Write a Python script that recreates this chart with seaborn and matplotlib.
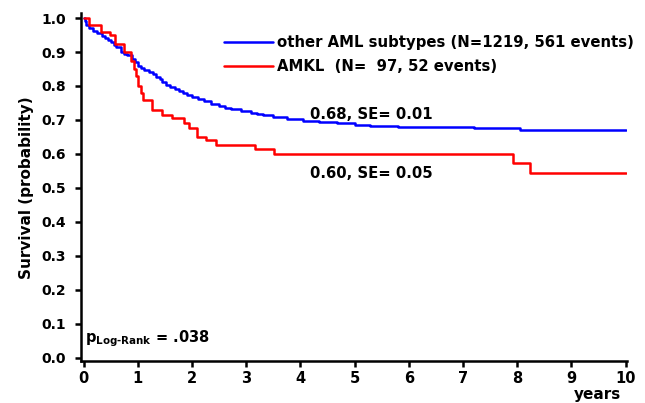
import matplotlib

matplotlib.use("Agg")

import matplotlib.pyplot as plt
import pandas as pd
import seaborn as sns

# Kaplan-Meier curves (years, survival probability)
other_years = [0.0, 0.02, 0.05, 0.10, 0.17, 0.25, 0.33, 0.40, 0.45, 0.50, 0.55, 0.60,
               0.68, 0.75, 0.80, 0.90, 0.95, 1.00, 1.05, 1.12, 1.20, 1.27, 1.33, 1.40,
               1.45, 1.52, 1.60, 1.68, 1.75, 1.83, 1.91, 2.00, 2.10, 2.22, 2.34, 2.50,
               2.60, 2.71, 2.90, 3.08, 3.20, 3.30, 3.50, 3.75, 4.05, 4.35, 4.67, 5.00,
               5.28, 5.80, 6.45, 7.20, 7.92, 8.05, 10.0]
other_surv = [1.0, 0.99, 0.98, 0.97, 0.962, 0.955, 0.948, 0.94, 0.935, 0.93, 0.922, 0.915,
              0.90, 0.895, 0.89, 0.88, 0.87, 0.86, 0.852, 0.846, 0.84, 0.834, 0.827, 0.82,
              0.812, 0.804, 0.796, 0.79, 0.785, 0.78, 0.774, 0.768, 0.762, 0.755, 0.747, 0.74,
              0.735, 0.731, 0.726, 0.721, 0.717, 0.714, 0.708, 0.703, 0.698, 0.694, 0.69, 0.686,
              0.683, 0.68, 0.678, 0.677, 0.675, 0.671, 0.671]

amkl_years = [0.0, 0.10, 0.31, 0.48, 0.57, 0.74, 0.88, 0.93, 0.97, 1.01, 1.05, 1.09,
              1.26, 1.45, 1.63, 1.85, 1.94, 2.09, 2.26, 2.45, 3.17, 3.52, 7.92, 8.23, 10.0]
amkl_surv = [1.0, 0.98, 0.96, 0.95, 0.925, 0.90, 0.875, 0.85, 0.83, 0.80, 0.78, 0.76,
             0.73, 0.715, 0.705, 0.69, 0.675, 0.65, 0.64, 0.627, 0.615, 0.60, 0.573, 0.545, 0.545]

group_labels = ["other AML subtypes (N=1219, 561 events)", "AMKL  (N=  97, 52 events)"]
group_colors = ["#0000ff", "#ff0000"]
x_ticks = list(range(0, 11))
y_ticks = [round(0.1 * i, 1) for i in range(0, 11)]

sns.set_style("ticks")
plt.rcParams["font.family"] = ["DejaVu Sans"]
plt.rcParams["font.weight"] = "bold"
plt.rcParams["text.color"] = "black"
plt.rcParams["axes.labelcolor"] = "black"
plt.rcParams["axes.edgecolor"] = "black"
plt.rcParams["xtick.color"] = "black"
plt.rcParams["ytick.color"] = "black"
plt.rcParams["mathtext.fontset"] = "custom"
plt.rcParams["mathtext.rm"] = "DejaVu Sans:bold"
plt.rcParams["mathtext.it"] = "DejaVu Sans:bold"
plt.rcParams["mathtext.bf"] = "DejaVu Sans:bold"

df = pd.concat([
    pd.DataFrame({"years": other_years, "surv": other_surv, "group": group_labels[0]}),
    pd.DataFrame({"years": amkl_years, "surv": amkl_surv, "group": group_labels[1]}),
])

fig = plt.figure(figsize=(6.45, 4.03), dpi=100)
ax = fig.add_axes([0.1256, 0.104, 0.846, 0.863])

sns.lineplot(data=df, x="years", y="surv", hue="group", palette=group_colors,
             estimator=None, sort=False, drawstyle="steps-post", linewidth=1.8, ax=ax)

ax.set_xlim(-0.05, 10.02)
ax.set_ylim(-0.01, 1.014)
ax.set_xticks(x_ticks)
ax.set_yticks(y_ticks)
ax.set_xticklabels([str(v) for v in x_ticks], fontsize=10.5, fontweight="bold")
ax.set_yticklabels([f"{v:.1f}" for v in y_ticks], fontsize=10, fontweight="bold")
ax.tick_params(direction="out", length=4, width=1.8)
ax.tick_params(axis="y", pad=7)
ax.tick_params(axis="x", pad=3)
for side in ["left", "bottom"]:
    ax.spines[side].set_linewidth(1.8)
sns.despine(ax=ax)

ax.set_xlabel("")
ax.set_ylabel("Survival (probability)", fontsize=11, fontweight="bold", labelpad=5)

leg = ax.legend(loc="upper left", bbox_to_anchor=(0.238, 0.975), frameon=False,
                handlelength=3.3, handletextpad=0.25, labelspacing=0.6,
                prop={"size": 10.7, "weight": "bold"})
for line in leg.get_lines():
    line.set_linewidth(1.8)

ax.text(4.18, 0.715, "0.68, SE= 0.01", fontsize=10.7, fontweight="bold", ha="left", va="center")
ax.text(4.18, 0.543, "0.60, SE= 0.05", fontsize=10.7, fontweight="bold", ha="left", va="center")
ax.text(0.02, 0.025, r"$\mathrm{p}_{\text{Log-Rank}}$ = .038", fontsize=10.5,
        fontweight="bold", ha="left", va="bottom")
fig.text(0.963, 0.003, "years", fontsize=11, fontweight="bold", ha="right", va="bottom")

fig.savefig("out.png", dpi=100)
